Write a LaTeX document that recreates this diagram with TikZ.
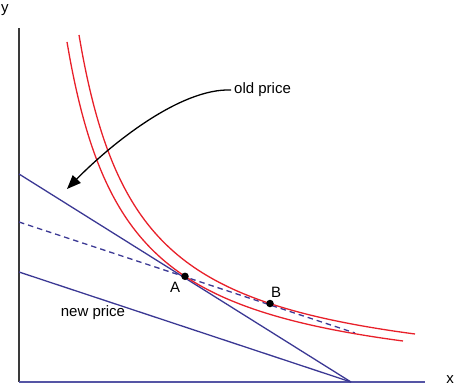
\documentclass[tikz,border=0pt]{standalone}
\usepackage{fontspec}
\setmainfont{Liberation Sans}
\usetikzlibrary{arrows.meta}
\definecolor{icred}{HTML}{E8202A}
\definecolor{budget}{HTML}{3B3894}
\definecolor{xaxiscol}{HTML}{5555A5}
\definecolor{yaxiscol}{HTML}{3A3A3A}
\begin{document}
\begin{tikzpicture}[x=1pt,y=-1pt,
  lbl/.style={font=\fontsize{15}{17}\selectfont, inner sep=0pt},
  icurve/.style={icred, line width=1.3pt},
  bline/.style={budget, line width=1.3pt},
  dot/.style={circle, fill=black, inner sep=0pt, minimum size=7.5pt}]
\useasboundingbox (0,0) rectangle (454,389);
\coordinate (O) at (19,382);
\coordinate (ytop) at (19,28);
\coordinate (xend) at (425,382);
\coordinate (oldY) at (19,174);
\coordinate (newY) at (19,272);
\coordinate (X0) at (351,382);
\coordinate (dS) at (19,222);
\coordinate (dE) at (355,333);
\coordinate (tip) at (67,189);
\draw[yaxiscol, line width=2pt] (ytop) -- (O);
\draw[xaxiscol, line width=2pt] (O) -- (xend);
\draw[bline] (oldY) -- (X0);
\draw[bline] (newY) -- (X0);
\draw[bline, dash pattern=on 5.5pt off 4pt] (dS) -- (dE);
\draw[icurve, domain=67:403, samples=120, smooth] plot (\x, {393.5-207.39/((\x-8)/100)});
\draw[icurve, domain=79:415, samples=120, smooth] plot (\x, {386.5-207.39/((\x-20)/100)});
\node[dot] (A) at (185,276.3) {};
\node[dot] (B) at (270,303.5) {};
\node[lbl] (Alab) at (175,287) {A};
\node[lbl] (Blab) at (276,292) {B};
\node[lbl] (ylab) at (5,10) {y};
\node[lbl] (xlab) at (450,380) {x};
\node[lbl, anchor=west, inner sep=3pt] (oldlbl) at (231,90) {old price};
\node[lbl] (newlbl) at (93,313) {new price};
\draw[line width=1.3pt, -{Triangle[length=14pt,width=11pt]}] (oldlbl.west) .. controls (180,88) and (110,145) .. (tip);
\end{tikzpicture}
\end{document}
